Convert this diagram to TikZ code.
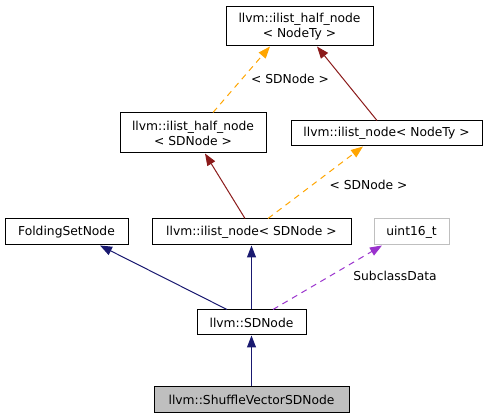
\documentclass[tikz,border=0pt]{standalone}
\usepackage{fontspec}
\setmainfont{DejaVu Sans}
\usetikzlibrary{arrows.meta}
\definecolor{edgered}{HTML}{8B1A1A}
\definecolor{edgeblue}{HTML}{191970}
\definecolor{edgeorange}{HTML}{FFA500}
\definecolor{edgepurple}{HTML}{9A32CD}
\definecolor{greyseventyfive}{HTML}{BFBFBF}
\tikzset{
  cls/.style={draw=black, line width=1pt, fill=white, inner sep=0pt, align=center,
    font=\fontsize{12.3}{15}\selectfont},
  clsgrey/.style={cls, draw=greyseventyfive},
  clscur/.style={cls, fill=greyseventyfive},
  inh/.style={line width=1pt, -{Triangle[length=12pt,width=9pt]}},
  tmpl/.style={line width=1pt, dash pattern=on 6pt off 5pt, edgeorange, -{Triangle[length=12pt,width=9pt]}},
  usage/.style={line width=1pt, dash pattern=on 6pt off 5pt, edgepurple, -{Triangle[length=12pt,width=9pt]}},
  elabel/.style={font=\fontsize{12.3}{15}\selectfont, inner sep=0pt}
}
\begin{document}
\begin{tikzpicture}[x=1pt,y=-1pt]
\useasboundingbox (0,0) rectangle (488,419);
\node[cls, minimum width=147pt, minimum height=39pt] (top) at (299.5,26.5) {llvm::ilist\_half\_node\\< NodeTy >};
\node[cls, minimum width=146pt, minimum height=40pt] (halfSD) at (193,133) {llvm::ilist\_half\_node\\< SDNode >};
\node[cls, minimum width=191pt, minimum height=25pt] (nodeTy) at (386.5,133.5) {llvm::ilist\_node< NodeTy >};
\node[cls, minimum width=123pt, minimum height=26pt] (fsn) at (66.5,232) {FoldingSetNode};
\node[cls, minimum width=199pt, minimum height=26pt] (nodeSD) at (251.5,232) {llvm::ilist\_node< SDNode >};
\node[clsgrey, minimum width=75pt, minimum height=26pt] (uint) at (411.5,232) {uint16\_t};
\node[cls, minimum width=109pt, minimum height=25pt] (sdnode) at (251.5,322.5) {llvm::SDNode};
\node[clscur, minimum width=195pt, minimum height=26pt] (shuffle) at (251.5,400) {llvm::ShuffleVectorSDNode};

\draw[tmpl] ([xshift=20pt]halfSD.north) -- ([xshift=-29.5pt]top.south);
\node[elabel] (l1) at (290,79) {< SDNode >};
\draw[inh, edgered] ([xshift=-9.5pt]nodeTy.north) -- ([xshift=17.5pt]top.south);
\draw[inh, edgered] ([xshift=-6.5pt]nodeSD.north) -- ([xshift=12pt]halfSD.south);
\draw[tmpl] ([xshift=16.5pt]nodeSD.north) -- ([xshift=-23.5pt]nodeTy.south);
\node[elabel] (l2) at (368.5,185) {< SDNode >};
\draw[inh, edgeblue] ([xshift=-24.5pt]sdnode.north) -- ([xshift=33.5pt]fsn.south);
\draw[inh, edgeblue] (sdnode.north) -- (nodeSD.south);
\draw[usage] ([xshift=21.5pt]sdnode.north) -- ([xshift=-29.5pt]uint.south);
\node[elabel] (l3) at (395,276) {SubclassData};
\draw[inh, edgeblue] (shuffle.north) -- (sdnode.south);
\end{tikzpicture}
\end{document}
